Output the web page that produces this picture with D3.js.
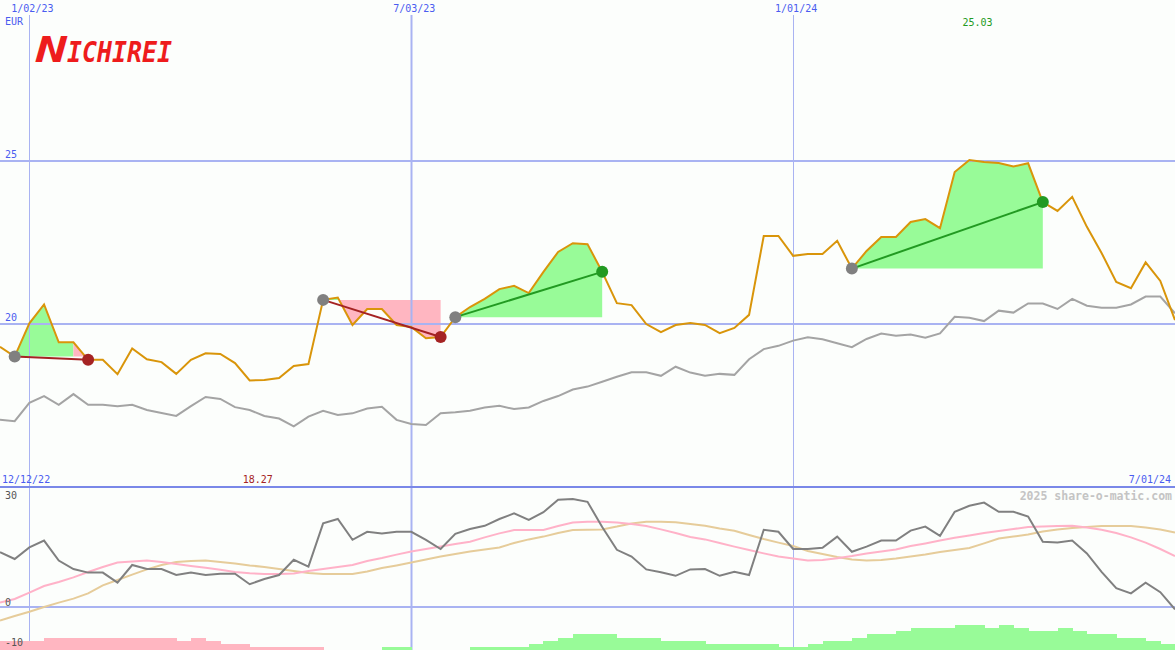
<!DOCTYPE html>
<html>
<head>
<meta charset="utf-8">
<script src="https://cdn.jsdelivr.net/npm/d3@7"></script>
<style>
html,body{margin:0;padding:0;background:#fcfefc;}
svg{display:block;}
text{font-family:"DejaVu Sans Mono",monospace;}
</style>
</head>
<body>
<svg id="chart" width="1175" height="650"></svg>
<script>
// ---------- DATA ----------
const startDate = new Date(2022, 11, 19);
const endDate = new Date(2024, 6, 1);
const weeks = d3.timeMonday.range(startDate, new Date(2024, 6, 2)); // weekly points

const price = [19.30, 19.00, 20.02, 20.60, 19.44, 19.44, 18.90, 18.90, 18.46, 19.25,
  18.92, 18.83, 18.47, 18.90, 19.10, 19.08, 18.80, 18.27, 18.28, 18.34,
  18.71, 18.77, 20.74, 20.81, 19.97, 20.46, 20.46, 19.97, 19.91, 19.56,
  19.60, 20.21, 20.52, 20.77, 21.07, 21.17, 20.95, 21.60, 22.21, 22.48,
  22.45, 21.60, 20.64, 20.58, 20.00, 19.75, 19.97, 20.03, 19.97, 19.72,
  19.88, 20.28, 22.70, 22.70, 22.09, 22.15, 22.15, 22.55, 21.70, 22.24,
  22.67, 22.67, 23.13, 23.22, 22.94, 24.66, 25.03, 24.97, 24.94, 24.83,
  24.93, 23.74, 23.47, 23.90, 22.98, 22.18, 21.29, 21.10, 21.89, 21.32, 20.12];

const benchmark = [17.06, 17.02, 17.58, 17.79, 17.52, 17.85, 17.52, 17.52, 17.48, 17.52,
  17.36, 17.27, 17.18, 17.48, 17.76, 17.70, 17.45, 17.36, 17.18, 17.10,
  16.86, 17.16, 17.34, 17.21, 17.26, 17.41, 17.46, 17.06, 16.93, 16.90,
  17.26, 17.29, 17.34, 17.44, 17.49, 17.39, 17.44, 17.64, 17.79, 17.99,
  18.08, 18.23, 18.38, 18.52, 18.52, 18.41, 18.69, 18.51, 18.41, 18.47,
  18.44, 18.92, 19.23, 19.33, 19.49, 19.59, 19.53, 19.41, 19.29, 19.54,
  19.71, 19.64, 19.68, 19.58, 19.71, 20.22, 20.19, 20.09, 20.41, 20.35,
  20.63, 20.63, 20.46, 20.77, 20.56, 20.50, 20.50, 20.60, 20.84, 20.84, 20.33];

const oscillator = [13.7, 12.0, 14.9, 16.6, 11.6, 9.5, 8.6, 8.6, 6.1, 10.5,
  9.5, 9.5, 8.0, 8.6, 8.0, 8.3, 8.3, 5.7, 7.0, 8.0,
  11.8, 10.1, 20.9, 22.0, 16.8, 18.8, 18.4, 18.8, 18.8, 16.8,
  14.5, 18.3, 19.5, 20.3, 22.0, 23.4, 21.8, 23.7, 26.8, 27.0,
  26.3, 20.0, 14.3, 12.6, 9.4, 8.7, 7.8, 9.4, 9.5, 7.8,
  8.8, 8.0, 19.3, 18.8, 14.5, 14.5, 14.8, 17.6, 13.8, 15.1,
  16.6, 16.6, 19.1, 20.1, 17.8, 23.8, 25.3, 26.1, 23.8, 23.8,
  22.6, 16.3, 16.1, 16.6, 13.4, 8.8, 4.7, 3.4, 6.1, 3.7, -0.6];

const fastAvg = [1.1, 2.0, 3.6, 5.25, 6.25, 7.4, 8.75, 10.0, 11.1, 11.4,
  11.6, 11.25, 10.75, 10.25, 9.8, 9.3, 8.75, 8.45, 8.25, 8.25,
  8.4, 9.0, 9.5, 10.0, 10.5, 11.5, 12.25, 13.1, 13.9, 14.5,
  15.1, 15.75, 16.3, 17.4, 18.4, 19.25, 19.25, 19.25, 20.25, 21.1,
  21.3, 21.3, 21.1, 20.75, 20.25, 19.4, 18.5, 17.5, 16.9, 16.0,
  15.1, 14.25, 13.4, 12.6, 12.1, 11.6, 11.75, 12.2, 12.75, 13.4,
  13.9, 14.4, 15.25, 15.9, 16.6, 17.3, 17.9, 18.5, 19.0, 19.5,
  20.0, 20.1, 20.25, 20.3, 19.9, 19.3, 18.5, 17.4, 16.1, 14.5, 12.75];

const slowAvg = [-3.4, -2.25, -1.2, 0, 1.1, 2.1, 3.4, 5.4, 6.75, 8.1,
  9.4, 10.5, 11.25, 11.5, 11.6, 11.25, 10.9, 10.4, 10.0, 9.5,
  9.0, 8.5, 8.25, 8.25, 8.25, 8.9, 9.75, 10.4, 11.1, 11.9,
  12.6, 13.25, 13.9, 14.4, 14.9, 16.0, 16.9, 17.6, 18.5, 19.25,
  19.3, 19.4, 20.1, 20.9, 21.3, 21.3, 21.2, 20.75, 20.3, 19.6,
  19.05, 18.0, 17.0, 16.1, 15.25, 14.0, 13.25, 12.5, 11.9, 11.6,
  11.75, 12.1, 12.6, 13.1, 13.75, 14.25, 14.75, 15.9, 17.1, 17.6,
  18.1, 18.9, 19.4, 19.75, 20.0, 20.25, 20.25, 20.25, 19.9, 19.4, 18.6];

const histogram = [-3, -3, -3, -4, -4, -4, -4, -4, -4, -4,
  -4, -4, -3, -4, -3, -2, -2, -1, -1, -1,
  -1, -1, 0, 0, 0, 0, 1, 1, 0, 0,
  0, 0, 1, 1, 1, 1, 2, 3, 4, 5,
  5, 5, 4, 4, 4, 3, 3, 3, 2, 2,
  2, 2, 2, 1, 1, 2, 3, 3, 4, 5,
  5, 6, 7, 7, 7, 8, 8, 7, 8, 7,
  6, 6, 7, 6, 5, 5, 4, 4, 3, 2, 0];

// trades: index of entry week and exit week
const tradeEntry = [1, 22, 31, 58];
const tradeExit = [6, 30, 41, 71];

const gridDates = [new Date(2023, 0, 2), new Date(2023, 6, 3), new Date(2024, 0, 1)];
const gridDateLabels = ["1/02/23", "7/03/23", "1/01/24"];
const priceTicks = [20, 25];
const oscTicks = [30, 0, -10];
const currency = "EUR";
const periodStartLabel = "12/12/22";
const periodEndLabel = "7/01/24";
const copyright = "2025 share-o-matic.com";

// ---------- COLOURS ----------
const C = {
  grid: "#a9b3f2", sep: "#7a88e8", axisText: "#4a5cf0",
  price: "#d9950a", bench: "#a4a4a4",
  up: "#98fb98", down: "#ffb6c1",
  win: "#229a22", loss: "#a52323", entry: "#808080",
  osc: "#808080", fast: "#ffb2c8", slow: "#e6cc9a",
  tick: "#555555", copy: "#c4c4c4"
};

// ---------- SCALES ----------
const W = 1175, H = 650;
const x = d3.scaleTime().domain([startDate, endDate]).range([0, W]);
const y = d3.scaleLinear().domain([20, 25]).range([324, 161]);
const y2 = d3.scaleLinear().domain([-10, 30]).range([647, 487]);
const hScale = d3.scaleLinear().domain([0, 8]).range([0, 25]);

const svg = d3.select("#chart");
svg.append("rect").attr("width", W).attr("height", H).attr("fill", "#fcfefc");

// ---------- TRADE FILLS (runs of same colour merged) ----------
const gFill = svg.append("g");
const segArea = d3.area().x(d => x(d.date)).y0(d => d.base).y1(d => y(d.v));
tradeEntry.forEach((e, t) => {
  const ex = tradeExit[t];
  const pE = price[e];
  let runStart = e, runUp = price[e + 1] >= pE;
  for (let k = e + 1; k <= ex; k++) {
    const up = k < ex ? price[k + 1] >= pE : null;
    if (k === ex || up !== runUp) {
      const pts = d3.range(runStart, k + 1).map(i => ({date: weeks[i], v: price[i], base: y(pE)}));
      gFill.append("path").attr("d", segArea(pts)).attr("fill", runUp ? C.up : C.down);
      runStart = k; runUp = up;
    }
  }
});

// ---------- GRID ----------
const gGrid = svg.append("g");
gGrid.selectAll("line.h").data(priceTicks).join("line")
  .attr("x1", 0).attr("x2", W).attr("y1", d => y(d)).attr("y2", d => y(d))
  .attr("stroke", C.grid).attr("stroke-width", 2);
gGrid.selectAll("line.v").data(gridDates).join("line")
  .attr("x1", d => Math.round(x(d)) + 0.5).attr("x2", d => Math.round(x(d)) + 0.5)
  .attr("y1", 15).attr("y2", H)
  .attr("stroke", C.grid).attr("stroke-width", d => d.getMonth() === 6 ? 2 : 1);
gGrid.append("line").attr("x1", 0).attr("x2", W).attr("y1", y2(0)).attr("y2", y2(0))
  .attr("stroke", C.grid).attr("stroke-width", 2);

// ---------- LOWER PANEL ----------
const gLow = svg.append("g");
gLow.selectAll("rect").data(histogram.map((v, i) => ({v, i}))).join("rect")
  .filter(d => d.v !== 0)
  .attr("x", d => x(weeks[d.i]))
  .attr("width", d => x(d3.timeWeek.offset(weeks[d.i], 1)) - x(weeks[d.i]) + 0.5)
  .attr("y", d => H - hScale(Math.abs(d.v)))
  .attr("height", d => hScale(Math.abs(d.v)))
  .attr("fill", d => d.v > 0 ? C.up : C.down)
  .attr("shape-rendering", "crispEdges");

const line2 = arr => d3.line().x((d, i) => x(weeks[i])).y(d => y2(d))(arr);
gLow.append("path").attr("d", line2(slowAvg)).attr("fill", "none").attr("stroke", C.slow).attr("stroke-width", 2);
gLow.append("path").attr("d", line2(fastAvg)).attr("fill", "none").attr("stroke", C.fast).attr("stroke-width", 2);
gLow.append("path").attr("d", line2(oscillator)).attr("fill", "none").attr("stroke", C.osc).attr("stroke-width", 2);

svg.append("line").attr("x1", 0).attr("x2", W).attr("y1", 487).attr("y2", 487)
  .attr("stroke", C.sep).attr("stroke-width", 2);

// ---------- PRICE PANEL ----------
const line1 = arr => d3.line().x((d, i) => x(weeks[i])).y(d => y(d))(arr);
svg.append("path").attr("d", line1(benchmark)).attr("fill", "none").attr("stroke", C.bench).attr("stroke-width", 2);
svg.append("path").attr("d", line1(price)).attr("fill", "none").attr("stroke", C.price).attr("stroke-width", 2);

const gTrade = svg.append("g");
tradeEntry.forEach((e, t) => {
  const ex = tradeExit[t];
  const col = price[ex] >= price[e] ? C.win : C.loss;
  gTrade.append("line")
    .attr("x1", x(weeks[e])).attr("y1", y(price[e]))
    .attr("x2", x(weeks[ex])).attr("y2", y(price[ex]))
    .attr("stroke", col).attr("stroke-width", 2);
  gTrade.append("circle").attr("cx", x(weeks[e])).attr("cy", y(price[e])).attr("r", 6).attr("fill", C.entry);
  gTrade.append("circle").attr("cx", x(weeks[ex])).attr("cy", y(price[ex])).attr("r", 6).attr("fill", col);
});

// ---------- TEXT ----------
const txt = (s, px, py, opts = {}) => svg.append("text").text(s)
  .attr("x", px).attr("y", py)
  .attr("font-size", opts.size || 10)
  .attr("fill", opts.fill || C.axisText)
  .attr("text-anchor", opts.anchor || "start")
  .attr("font-weight", opts.weight || "normal");

gridDates.forEach((d, i) => txt(gridDateLabels[i], x(d) + 3, 12, {anchor: "middle"}));
txt(currency, 5, 25);
priceTicks.forEach(t => txt(String(t), 5, y(t) - 3));

const iMax = d3.maxIndex(price), iMin = d3.minIndex(price);
txt(price[iMax].toFixed(2), x(weeks[iMax]) - 7, 26, {fill: C.win});
txt(price[iMin].toFixed(2), x(weeks[iMin]) - 7, 483, {fill: C.loss});
txt(periodStartLabel, 2, 483);
txt(periodEndLabel, 1171, 483, {anchor: "end"});
txt(copyright, 1172, 500, {anchor: "end", fill: C.copy, size: 11.5, weight: "bold"});
txt("30", 5, 499, {fill: C.tick});
txt("0", 5, 606, {fill: C.tick});
txt("-10", 5, 646, {fill: C.tick});

// ---------- LOGO ----------
const logo = svg.append("g").attr("fill", "#ee1c1c")
  .attr("font-family", "DejaVu Sans, sans-serif")
  .attr("font-weight", "bold").attr("font-style", "italic");
logo.append("text").text("N").attr("x", 36).attr("y", 62).attr("font-size", 35)
  .attr("textLength", 31).attr("lengthAdjust", "spacingAndGlyphs");
logo.append("text").text("ICHIREI").attr("x", 67).attr("y", 62).attr("font-size", 28)
  .attr("textLength", 105).attr("lengthAdjust", "spacingAndGlyphs");
</script>
</body>
</html>
